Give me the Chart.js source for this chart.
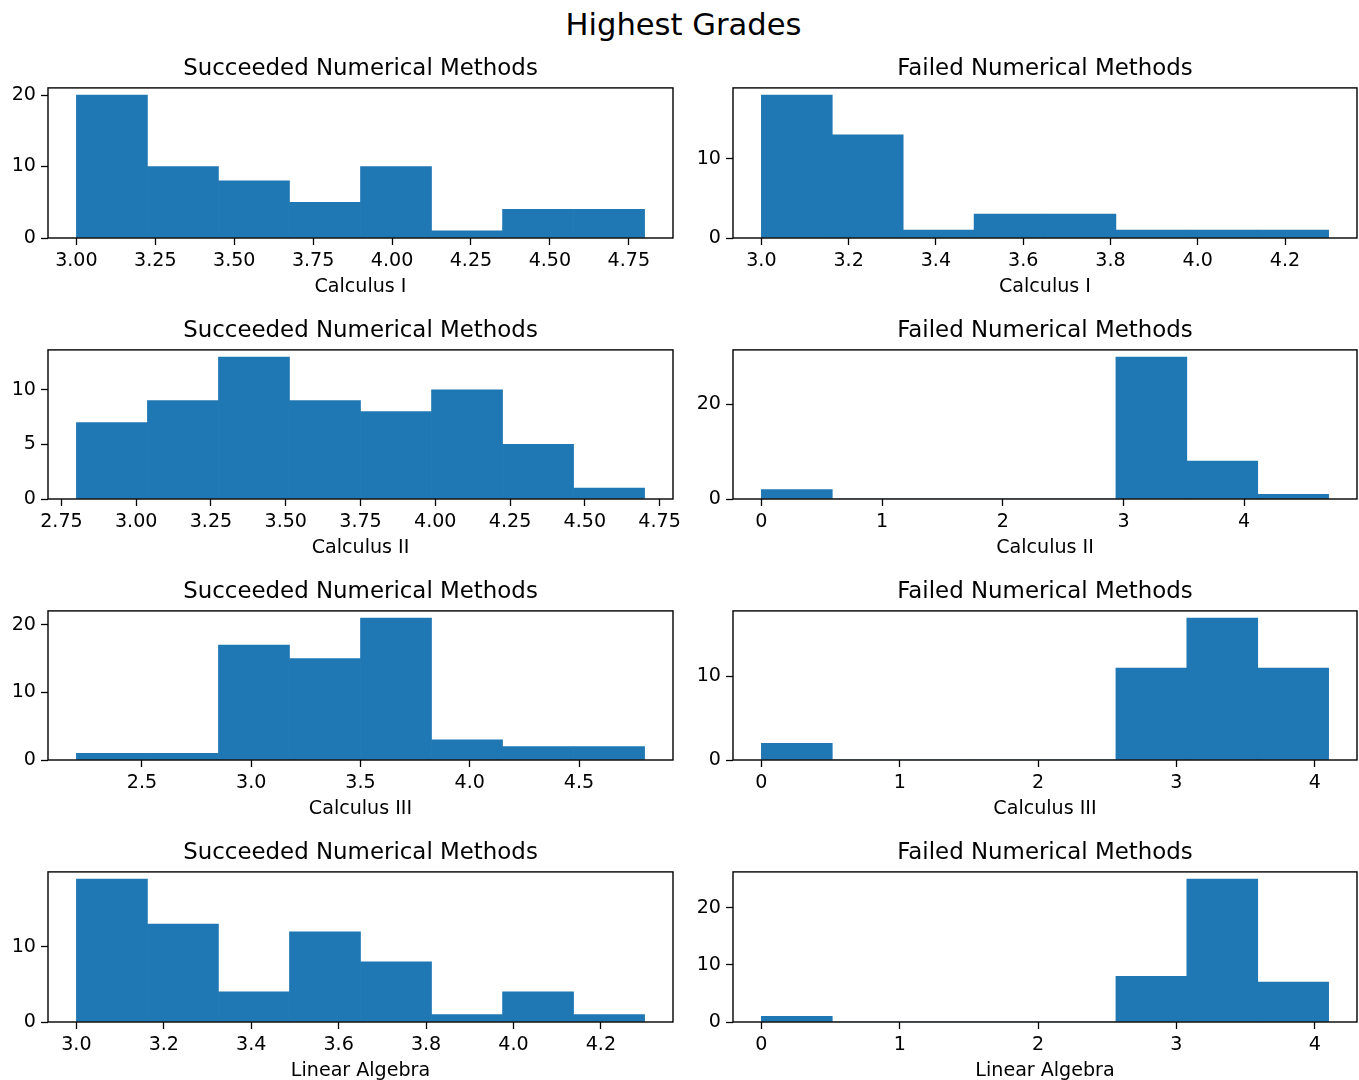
<!DOCTYPE html>
<html>
<head>
<meta charset="utf-8">
<script src="https://cdn.jsdelivr.net/npm/chart.js@4.4.0/dist/chart.umd.min.js"></script>
<style>
  body { margin: 0; width: 1359px; height: 1080px; overflow: hidden; background: #fff; position: relative; font-family: "DejaVu Sans"; }
  #suptitle { position: absolute; left: 0; width: 1367px; top: 10px; text-align: center; font-size: 30.6px; line-height: 30.6px; color: #000; }
  canvas { position: absolute; }
</style>
</head>
<body>
<div id="suptitle">Highest Grades</div>
<script>
// histogram data: 8 bins per panel over [lo, hi]
const subjects = ['Calculus I', 'Calculus II', 'Calculus III', 'Linear Algebra'];
const groupTitles = ['Succeeded Numerical Methods', 'Failed Numerical Methods'];

const succRanges = [[3.0, 4.8], [2.8, 4.7], [2.2, 4.8], [3.0, 4.3]];
const failRanges = [[3.0, 4.3], [0, 4.7], [0, 4.1], [0, 4.1]];

const succCounts = [
    [20, 10, 8, 5, 10, 1, 4, 4],
    [7, 9, 13, 9, 8, 10, 5, 1],
    [1, 1, 17, 15, 21, 3, 2, 2],
    [19, 13, 4, 12, 8, 1, 4, 1]
];
const failCounts = [
    [18, 13, 1, 3, 3, 1, 1, 1],
    [2, 0, 0, 0, 0, 30, 8, 1],
    [2, 0, 0, 0, 0, 11, 17, 11],
    [1, 0, 0, 0, 0, 8, 25, 7]
];

const succXTicks = [
    ['3.00', '3.25', '3.50', '3.75', '4.00', '4.25', '4.50', '4.75'],
    ['2.75', '3.00', '3.25', '3.50', '3.75', '4.00', '4.25', '4.50', '4.75'],
    ['2.5', '3.0', '3.5', '4.0', '4.5'],
    ['3.0', '3.2', '3.4', '3.6', '3.8', '4.0', '4.2']
];
const failXTicks = [
    ['3.0', '3.2', '3.4', '3.6', '3.8', '4.0', '4.2'],
    ['0', '1', '2', '3', '4'],
    ['0', '1', '2', '3', '4'],
    ['0', '1', '2', '3', '4']
];
const succYTicks = [[0, 10, 20], [0, 5, 10], [0, 10, 20], [0, 10]];
const failYTicks = [[0, 10], [0, 20], [0, 10], [0, 10, 20]];

// plot area positions in the page
const rowTop = [88, 350, 611, 872];
const rowBottom = [238, 499, 760, 1022];
const colLeft = [48, 733];
const colRight = [673, 1357];

const BLUE = '#1f77b4';
const FONT = 'DejaVu Sans';
const yAxisW = 70, titleH = 56, xAxisH = 75, padRight = 25;

Chart.defaults.font.family = FONT;
Chart.defaults.color = '#000';

const framePlugin = {
    id: 'frame',
    afterDatasetsDraw(chart) {
        const a = chart.chartArea;
        const ctx = chart.ctx;
        ctx.save();
        ctx.strokeStyle = '#000';
        ctx.lineWidth = 1.4;
        ctx.strokeRect(a.left, a.top, a.right - a.left, a.bottom - a.top);
        ctx.restore();
    }
};

function makePanel(row, col) {
    const range = col === 0 ? succRanges[row] : failRanges[row];
    const counts = col === 0 ? succCounts[row] : failCounts[row];
    const xTicks = col === 0 ? succXTicks[row] : failXTicks[row];
    const yTicks = col === 0 ? succYTicks[row] : failYTicks[row];

    const L = colLeft[col], R = colRight[col], T = rowTop[row], B = rowBottom[row];
    const cv = document.createElement('canvas');
    cv.width = R - L + yAxisW + padRight;
    cv.height = B - T + titleH + xAxisH;
    cv.style.left = (L - yAxisW) + 'px';
    cv.style.top = (T - titleH) + 'px';
    document.body.appendChild(cv);

    const lo = range[0], hi = range[1];
    const binW = (hi - lo) / counts.length;
    const span = hi - lo;
    const maxCount = Math.max(...counts);

    const tickGrid = {
        display: true,
        drawOnChartArea: false,
        drawTicks: true,
        tickLength: 7,
        tickWidth: 1.3,
        tickColor: '#000',
        offset: false
    };

    new Chart(cv, {
        type: 'bar',
        data: {
            datasets: [{
                data: counts.map((c, i) => ({ x: lo + (i + 0.5) * binW, y: c })),
                backgroundColor: BLUE,
                borderWidth: 0,
                barPercentage: 1,
                categoryPercentage: 1
            }]
        },
        options: {
            responsive: false,
            animation: false,
            events: [],
            layout: { padding: { left: 0, right: padRight, top: 0, bottom: 0 } },
            plugins: {
                legend: { display: false },
                tooltip: { enabled: false },
                title: {
                    display: true,
                    fullSize: false,
                    text: groupTitles[col],
                    color: '#000',
                    font: { family: FONT, size: 22.9, weight: 'normal', lineHeight: 1 },
                    padding: { top: 26, bottom: 7 }
                }
            },
            scales: {
                x: {
                    type: 'linear',
                    offset: false,
                    min: lo - 0.05 * span,
                    max: hi + 0.05 * span,
                    grid: tickGrid,
                    border: { display: false },
                    afterBuildTicks: s => { s.ticks = xTicks.map(t => ({ value: parseFloat(t) })); },
                    afterFit: s => { s.height = xAxisH; },
                    ticks: {
                        autoSkip: false,
                        maxRotation: 0,
                        padding: 5,
                        color: '#000',
                        font: { family: FONT, size: 19.1 },
                        callback: (v, i) => xTicks[i]
                    },
                    title: {
                        display: true,
                        text: subjects[row],
                        color: '#000',
                        font: { family: FONT, size: 19.1, lineHeight: 1 },
                        padding: { top: 0, bottom: 16 }
                    }
                },
                y: {
                    type: 'linear',
                    min: 0,
                    max: maxCount * 1.05,
                    grid: tickGrid,
                    border: { display: false },
                    afterBuildTicks: s => { s.ticks = yTicks.map(v => ({ value: v })); },
                    afterFit: s => { s.width = yAxisW; },
                    ticks: {
                        autoSkip: false,
                        padding: 5,
                        color: '#000',
                        font: { family: FONT, size: 19.1 },
                        callback: (v, i) => String(yTicks[i])
                    }
                }
            }
        },
        plugins: [framePlugin]
    });
}

for (let r = 0; r < subjects.length; r++) {
    makePanel(r, 0);
    makePanel(r, 1);
}
</script>
</body>
</html>
